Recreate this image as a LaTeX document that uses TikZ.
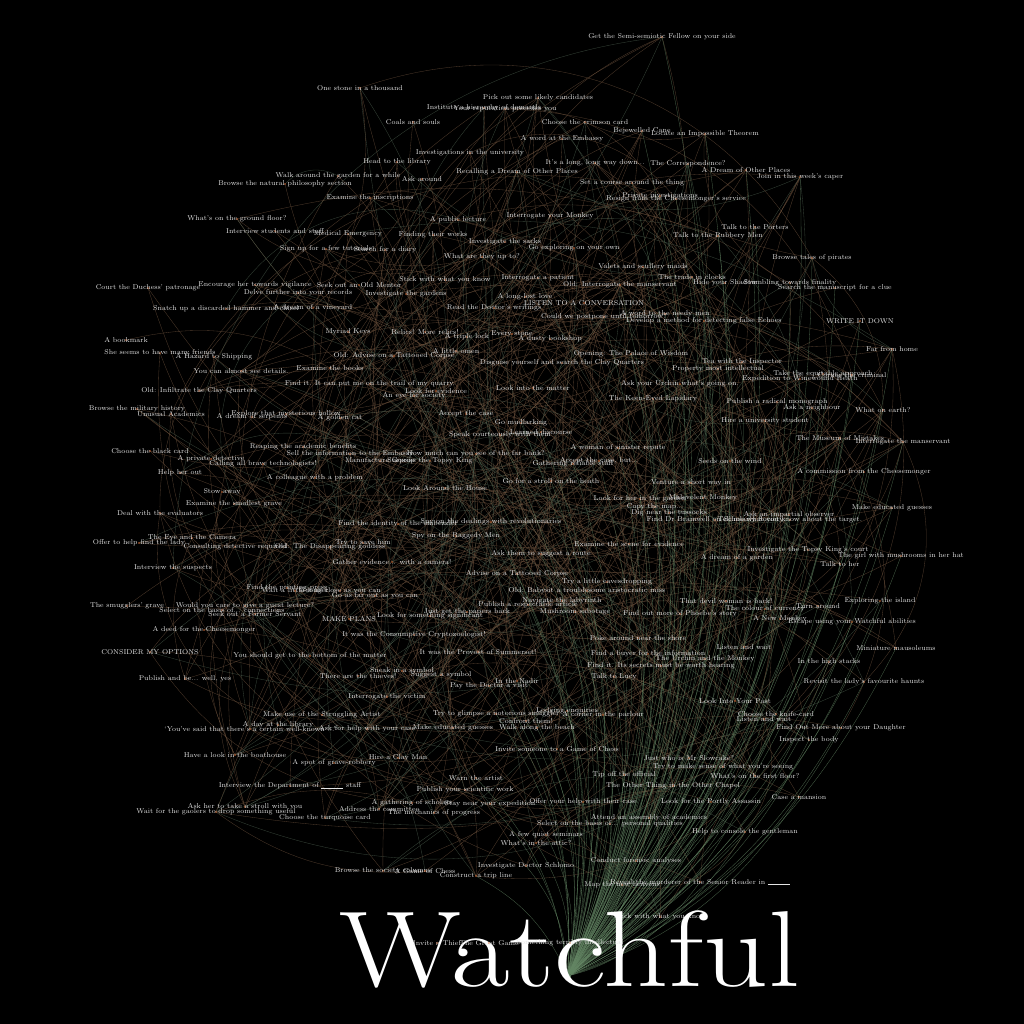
\documentclass[tikz,border=0pt]{standalone}
\usepackage{fontspec}
\pgfdeclarelayer{back}
\pgfdeclarelayer{edges}
\pgfsetlayers{back,edges,main}
\definecolor{labelc}{RGB}{228,228,228}
\definecolor{brownc}{RGB}{112,84,62}
\definecolor{greyg}{RGB}{78,96,80}
\definecolor{greenc}{RGB}{100,134,100}
\definecolor{dotc}{RGB}{200,100,50}
\newcounter{nc}
\tikzset{
  lbl/.style={text=labelc,font=\fontsize{7}{8}\selectfont,inner sep=0pt},
  edgeb/.style={draw=brownc,line width=0.33pt,opacity=0.7},
  edgeg/.style={draw=greyg,line width=0.33pt,opacity=0.7},
  fanedge/.style={draw=greenc,line width=0.3pt,opacity=0.75},
  dotm/.style={fill=dotc},
  title/.style={text=white,font=\fontsize{108}{108}\selectfont,inner sep=0pt,anchor=base}
}
\newcommand\mylab[3]{\stepcounter{nc}\fill[dotm] (#1,#2) circle (0.9);\node[lbl] (n\arabic{nc}) at (#1,#2) {#3};}
\begin{document}
\begin{tikzpicture}[x=1pt,y=-1pt]
\begin{pgfonlayer}{back}
\fill[black] (0,0) rectangle (1024,1024);
\end{pgfonlayer}
\useasboundingbox (0,0) rectangle (1024,1024);
\mylab{662}{37}{Get the Semi-semiotic Fellow on your side}
\mylab{360}{88}{One stone in a thousand}
\mylab{538}{98}{Pick out some likely candidates}
\mylab{484}{108}{Institute a hierarchy of demands}
\mylab{505}{109}{Your reputation precedes you}
\mylab{413}{122}{Coals and souls}
\mylab{585}{122}{Choose the crimson card}
\mylab{642}{131}{Bejewelled Cane}
\mylab{705}{134}{Locate an Impossible Theorem}
\mylab{562}{139}{A word at the Embassy}
\mylab{470}{153}{Investigations in the university}
\mylab{397}{162}{Head to the library}
\mylab{595}{163}{It's a long, long way down...}
\mylab{688}{164}{The Correspondence?}
\mylab{746}{170}{A Dream of Other Places}
\mylab{800}{177}{Join in this week's caper}
\mylab{338}{176}{Walk around the garden for a while}
\mylab{422}{179}{Ask around}
\mylab{517}{172}{Recalling a Dream of Other Places}
\mylab{285}{184}{Browse the natural philosophy section}
\mylab{632}{183}{Set a course around the thing}
\mylab{370}{198}{Examine the inscriptions}
\mylab{660}{196}{Private investigations}
\mylab{676}{199}{Resign from the Cheesemonger's service}
\mylab{237}{219}{What's on the ground floor?}
\mylab{458}{220}{A public lecture}
\mylab{550}{216}{Interrogate your Monkey}
\mylab{275}{231}{Interview students and staff}
\mylab{348}{234}{Medical Emergency}
\mylab{433}{235}{Finding their works}
\mylab{755}{227}{Talk to the Porters}
\mylab{718}{236}{Talk to the Rubbery Men}
\mylab{505}{242}{Investigate the sacks}
\mylab{326}{249}{Sign up for a few tutorials}
\mylab{385}{250}{Search for a diary}
\mylab{574}{248}{Go exploring on your own}
\mylab{482}{257}{What are they up to?}
\mylab{812}{258}{Browse tales of pirates}
\mylab{643}{267}{Valets and scullery maids}
\mylab{692}{277}{The trade in clocks}
\mylab{148}{288}{Court the Duchess' patronage}
\mylab{255}{285}{Encourage her towards vigilance}
\mylab{359}{285}{Seek out an Old Mentor}
\mylab{298}{293}{Delve further into your records}
\mylab{406}{294}{Investigate the gardens}
\mylab{445}{280}{Stick with what you know}
\mylab{538}{278}{Interrogate a patient}
\mylab{620}{285}{Old: Interrogate the manservant}
\mylab{725}{283}{Hide your Shadow}
\mylab{790}{283}{Stumbling towards finality}
\mylab{835}{288}{Search the manuscript for a clue}
\mylab{525}{297}{A long-lost love}
\mylab{584}{303}{LISTEN TO A CONVERSATION}
\mylab{226}{309}{Snatch up a discarded hammer and chisel}
\mylab{313}{308}{A dream of a vineyard}
\mylab{494}{308}{Read the Doctor's writings}
\mylab{604}{317}{Could we postpone until tomorrow?}
\mylab{665}{314}{A word to the needy men}
\mylab{704}{321}{Develop a method for detecting false Echoes}
\mylab{860}{321}{WRITE IT DOWN}
\mylab{348}{332}{Myriad Keys}
\mylab{425}{332}{Relics! More relics!}
\mylab{467}{337}{A triple lock}
\mylab{512}{334}{Every stone}
\mylab{550}{339}{A dusty bookshop}
\mylab{126}{340}{A bookmark}
\mylab{160}{353}{She seems to have many friends}
\mylab{214}{357}{A Hazard to Shipping}
\mylab{394}{356}{Old: Advise on a Tattooed Corpse}
\mylab{456}{351}{A little omen}
\mylab{631}{354}{Opening: The Palace of Wisdom}
\mylab{562}{363}{Disguise yourself and search the Clay Quarters}
\mylab{892}{349}{Far from home}
\mylab{742}{362}{Tea with the Inspector}
\mylab{718}{369}{Property most intellectual}
\mylab{823}{374}{Take the equitable approach}
\mylab{852}{375}{Corner the criminal}
\mylab{800}{379}{Expedition to Winewound Heath}
\mylab{241}{371}{You can almost see details.}
\mylab{330}{368}{Examine the books}
\mylab{370}{384}{Find it. It can put me on the trail of my quarry.}
\mylab{436}{391}{Look for evidence}
\mylab{414}{396}{An eye for society}
\mylab{533}{388}{Look into the matter}
\mylab{680}{384}{Ask your Urchin what's going on.}
\mylab{653}{399}{The Keen-Eyed Lapidary}
\mylab{777}{402}{Publish a radical monograph}
\mylab{812}{408}{Ask a neighbour}
\mylab{883}{410}{What on earth?}
\mylab{199}{391}{Old: Infiltrate the Clay Quarters}
\mylab{137}{409}{Browse the military history}
\mylab{171}{414}{Unusual Academics}
\mylab{286}{414}{Explore that mysterious hollow}
\mylab{252}{417}{A dream of serpents}
\mylab{340}{418}{A golden cat}
\mylab{466}{414}{Accept the case}
\mylab{765}{421}{Hire a university student}
\mylab{521}{423}{Go mudlarking}
\mylab{541}{432}{Learned discourse}
\mylab{500}{435}{Speak courteously with them}
\mylab{840}{438}{The Museum of Mistakes}
\mylab{903}{442}{Interrogate the manservant}
\mylab{150}{451}{Choose the black card}
\mylab{303}{447}{Reaping the academic benefits}
\mylab{350}{454}{Sell the information to the Embassy}
\mylab{476}{454}{How much can you see of the far bank?}
\mylab{618}{448}{A woman of sinister repute}
\mylab{380}{461}{Manufacture Gossip}
\mylab{430}{461}{Surprise the Topsy King}
\mylab{211}{459}{A private detective}
\mylab{263}{464}{Calling all brave technologists!}
\mylab{599}{461}{Accept the case, but...}
\mylab{573}{464}{Gathering reliable staff}
\mylab{730}{461}{Seeds on the wind}
\mylab{180}{473}{Help her out}
\mylab{315}{478}{A colleague with a problem}
\mylab{864}{472}{A commission from the Cheesemonger}
\mylab{551}{481}{Go for a stroll on the heath}
\mylab{691}{483}{Venture a short way in}
\mylab{445}{488}{Look Around the House}
\mylab{222}{492}{Stow away}
\mylab{640}{499}{Look for her in the garden}
\mylab{703}{498}{Malevolent Monkey}
\mylab{655}{507}{Copy the map...}
\mylab{669}{513}{Dig near the tussocks}
\mylab{234}{504}{Examine the smallest grave}
\mylab{160}{513}{Deal with the evaluators}
\mylab{892}{508}{Make educated guesses}
\mylab{789}{515}{Ask an impartial observer}
\mylab{715}{520}{Find Dr Bramwell on Scholarly Society}
\mylab{790}{520}{Tell me what you know about the target.}
\mylab{192}{538}{The Eye and the Camera}
\mylab{139}{543}{Offer to help find the lady}
\mylab{235}{547}{Consulting detective required}
\mylab{330}{547}{Old: The Disappearing goddess}
\mylab{398}{524}{Find the identity of the embezzler}
\mylab{491}{522}{Spy on the dealings with revolutionaries}
\mylab{363}{543}{Try to save him}
\mylab{392}{562}{Gather evidence... with a camera!}
\mylab{456}{536}{Spy on the Raggedy Men}
\mylab{629}{544}{Examine the scene for evidence}
\mylab{541}{554}{Ask them to suggest a route}
\mylab{808}{550}{Investigate the Topsy King's court}
\mylab{737}{558}{A dream of a garden}
\mylab{901}{556}{The girl with mushrooms in her hat}
\mylab{840}{564}{Talk to her}
\mylab{173}{568}{Interview the suspects}
\mylab{517}{574}{Advise on a Tattooed Corpse}
\mylab{607}{582}{Try a little eavesdropping}
\mylab{287}{588}{Find the printing press}
\mylab{295}{591}{Wait a little longer}
\mylab{340}{591}{Get as close as you can}
\mylab{375}{596}{Go as far out as you can}
\mylab{587}{591}{Old: Babysit a troublesome aristocratic miss}
\mylab{562}{601}{Navigate the labyrinth}
\mylab{528}{605}{Publish a respectable article}
\mylab{726}{601}{That devil woman is back!}
\mylab{880}{601}{Exploring the island}
\mylab{818}{606}{Turn around}
\mylab{765}{609}{The colour of currency}
\mylab{127}{606}{The smugglers' grave}
\mylab{245}{606}{Would you care to give a guest lecture?}
\mylab{222}{610}{Select on the basis of... connections}
\mylab{255}{614}{Seek out a Former Servant}
\mylab{467}{612}{Just get the papers back}
\mylab{430}{616}{Look for something significant}
\mylab{575}{612}{Mushroom sabotage}
\mylab{680}{614}{Find out more of Phoebe's story}
\mylab{780}{619}{A New Monkey}
\mylab{852}{622}{Escape using your Watchful abilities}
\mylab{349}{619}{MAKE PLANS}
\mylab{204}{630}{A deed for the Cheesemonger}
\mylab{414}{635}{It was the Consumptive Cryptozoologist!}
\mylab{638}{638}{Poke around near the shore}
\mylab{150}{652}{CONSIDER MY OPTIONS}
\mylab{310}{656}{You should get to the bottom of the matter}
\mylab{478}{652}{It was the Provost of Summerset!}
\mylab{648}{654}{Find a buyer for the information}
\mylab{705}{659}{The Urchin and the Monkey}
\mylab{744}{647}{Listen and wait}
\mylab{896}{648}{Miniature mausoleums}
\mylab{661}{666}{Find it. Its secrets must be worth hearing}
\mylab{829}{662}{In the high stacks}
\mylab{402}{671}{Sneak in a symbol}
\mylab{358}{676}{There are the thieves!}
\mylab{441}{675}{Suggest a symbol}
\mylab{614}{677}{Talk to Lucy}
\mylab{517}{681}{In the Nadir}
\mylab{489}{686}{Pay the Doctor a visit}
\mylab{185}{679}{Publish and be... well, yes}
\mylab{864}{682}{Revisit the lady's favourite haunts}
\mylab{387}{697}{Interrogate the victim}
\mylab{735}{701}{Look Into Your Past}
\mylab{322}{715}{Make use of the Struggling Artist}
\mylab{496}{714}{Try to glimpse a notorious smuggler}
\mylab{567}{711}{Lodging enquiries}
\mylab{603}{715}{A corner in the parlour}
\mylab{776}{714}{Choose the knife-card}
\mylab{764}{719}{Listen and wait}
\mylab{526}{721}{Confront them!}
\mylab{278}{725}{A day at the library}
\mylab{250}{729}{`You've said that there's a certain well-known ...'}
\mylab{367}{729}{Ask for help with your case}
\mylab{453}{728}{Make educated guesses}
\mylab{537}{728}{Walk along the beach}
\mylab{841}{728}{Find Out More about your Daughter}
\mylab{809}{740}{Inspect the body}
\mylab{557}{749}{Invite someone to a Game of Chess}
\mylab{235}{755}{Have a look in the boathouse}
\mylab{689}{758}{Just who is Mr Slowcake?}
\mylab{398}{758}{Hire a Clay Man}
\mylab{334}{763}{A spot of grave-robbery}
\mylab{723}{767}{Try to make sense of what you're seeing}
\mylab{755}{776}{What's on the first floor?}
\mylab{624}{775}{Tip off the official}
\mylab{476}{778}{Warn the artist}
\mylab{290}{786}{Interview the Department of \rule[-0.5pt]{22pt}{0.4pt} staff}
\mylab{465}{790}{Publish your scientific work}
\mylab{673}{786}{The Other Thing in the Other Chapel}
\mylab{799}{797}{Case a mansion}
\mylab{711}{802}{Look for the Portly Assassin}
\mylab{245}{807}{Ask her to take a stroll with you}
\mylab{216}{812}{Wait for the gaolers to drop something useful}
\mylab{412}{803}{A gathering of scholars}
\mylab{490}{804}{Stay near your expedition}
\mylab{583}{802}{Offer your help with their case}
\mylab{379}{809}{Address the committee}
\mylab{434}{813}{The mechanics of progress}
\mylab{325}{818}{Choose the turquoise card}
\mylab{649}{818}{Attend an assembly of academics}
\mylab{610}{824}{Select on the basis of... personal qualities}
\mylab{745}{832}{Help to console the gentleman}
\mylab{546}{835}{A few quiet seminars}
\mylab{536}{843}{What's in the attic?}
\mylab{526}{866}{Investigate Doctor Schlomo}
\mylab{636}{861}{Conduct forensic analyses}
\mylab{383}{871}{Browse the society columns}
\mylab{425}{871}{A Game of Chess}
\mylab{476}{876}{Construct a trip line}
\mylab{700}{882}{Reveal the murderer of the Senior Reader in \rule[-0.5pt]{22pt}{0.4pt}}
\mylab{622}{885}{Map the new heavens}
\mylab{660}{917}{Stick with what you know}
\edef\N{\arabic{nc}}
\node[circle,fill=greenc,inner sep=0pt,minimum size=6pt] (hub) at (568,976) {};
\node[title] (wt) at (570,986) {\scalebox{1.18}[1]{Watchful}};
\mylab{437}{943}{Invite a Thief}
\mylab{489}{943}{The Great Game}
\mylab{570}{943}{Something terribly intellectual}
\begin{pgfonlayer}{edges}
\pgfmathsetseed{4242}
\foreach \i in {1,...,560}{
  \pgfmathrandominteger{\a}{1}{\N}
  \pgfmathrandominteger{\b}{1}{\N}
  \pgfmathrandominteger{\c}{12}{42}
  \pgfmathrandominteger{\g}{1}{4}
  \ifnum\g=1
    \draw[edgeg] (n\a.center) to[bend left=\c] (n\b.center);
  \else
    \draw[edgeb] (n\a.center) to[bend left=\c] (n\b.center);
  \fi
}
\foreach \i in {1,...,\N}{
  \path (n\i.center); \pgfgetlastxy{\px}{\py}
  \pgfmathtruncatemacro\ok{((\px>470 && \py<-420) || \px>600) ? 1 : 0}
  \ifnum\ok=1 \draw[fanedge] (hub) to[bend right=18] (n\i.center);\fi
}
\end{pgfonlayer}
\end{tikzpicture}
\end{document}
